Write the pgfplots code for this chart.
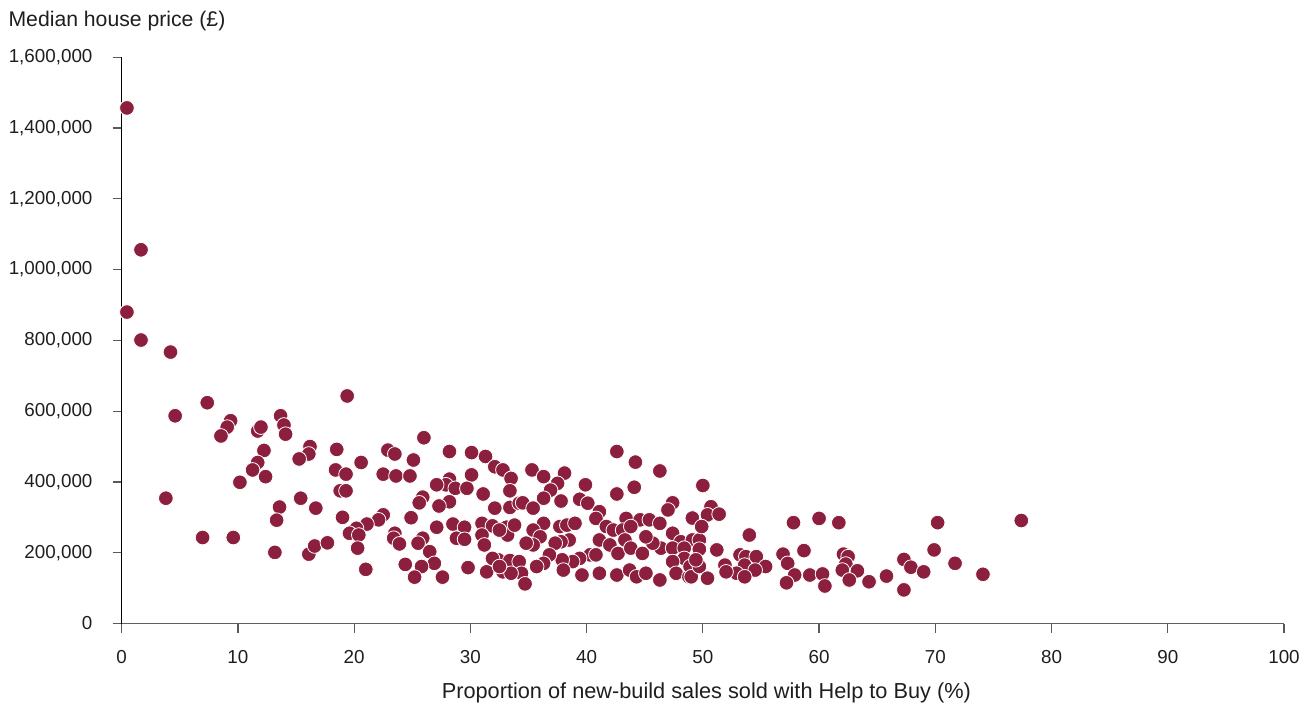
\documentclass[border=0pt]{standalone}
\usepackage{fontspec}
\setmainfont{Liberation Sans}
\usepackage{pgfplots}
\pgfplotsset{compat=1.18}
\definecolor{dot}{RGB}{140,30,62}
\definecolor{txt}{RGB}{30,30,30}
\begin{document}
\begin{tikzpicture}
\path[use as bounding box] (-91.275pt,-62.625pt) rectangle (892.725pt,467.625pt);
\begin{axis}[
  at={(0pt,0pt)}, anchor=south west,
  width=871.7pt, height=424.65pt, scale only axis,
  xmin=0, xmax=100, ymin=0, ymax=1600000,
  axis x line*=bottom, axis y line*=left,
  x axis line style={-, draw=gray!75!black, line width=0.9pt},
  y axis line style={-, draw=black, line width=0.9pt},
  tick align=outside, major tick length=6.75pt,
  tick style={draw=gray!70!black, line width=0.9pt},
  xtick={0,10,...,100},
  ytick={0,200000,400000,600000,800000,1000000,1200000,1400000,1600000},
  yticklabels={0,{200,000},{400,000},{600,000},{800,000},{1,000,000},{1,200,000},{1,400,000},{1,600,000}},
  scaled y ticks=false,
  /pgf/number format/assume math mode=true,
  ticklabel style={font=\fontsize{14.1}{16}\selectfont, text=txt},
  yticklabel style={anchor=east, inner sep=0pt, xshift=-15pt},
  xticklabel style={anchor=north, inner sep=0pt, yshift=-13.5pt},
  clip=false,
]
\addplot[only marks, mark=*, mark size=5.5pt, mark options={fill=dot, draw=white, line width=0.6pt}] table {
x y
0.45 1457000
1.66 1056000
0.45 880000
1.66 801000
4.2 767000
4.6 587000
3.8 354000
7.36 624000
6.96 243000
9.6 243000
9.37 573000
9.08 555000
8.54 530000
11.7 544000
11.98 555000
13.67 587000
13.96 561000
14.1 535000
12.24 489000
11.7 455000
11.26 434000
12.38 415000
10.17 399000
16.2 500000
16.1 479000
15.27 465000
15.4 354000
13.58 329000
13.33 292000
16.7 326000
13.18 201000
16.1 196000
16.6 219000
17.7 228000
19.4 643000
26.0 525000
18.5 492000
22.9 490000
23.5 479000
20.6 455000
25.1 462000
28.2 486000
30.1 483000
31.3 472000
18.4 434000
19.3 422000
22.5 422000
23.6 417000
24.8 417000
32.1 443000
32.8 434000
33.5 410000
30.1 420000
28.2 408000
27.9 392000
28.7 382000
29.7 382000
27.1 392000
18.8 375000
19.3 375000
33.4 375000
31.1 366000
25.9 357000
25.6 341000
28.2 344000
27.3 332000
32.1 326000
33.4 328000
34.2 340000
22.5 307000
22.1 293000
21.1 281000
20.2 269000
19.6 255000
19.0 300000
24.9 299000
20.4 250000
20.3 213000
23.5 255000
23.4 241000
23.9 225000
27.1 272000
28.5 281000
29.5 272000
31.0 283000
31.9 276000
33.1 272000
25.9 241000
25.5 227000
26.5 203000
26.9 170000
28.8 241000
29.5 238000
31.0 250000
31.2 222000
33.2 250000
21.0 153000
24.4 167000
25.8 161000
25.2 131000
27.6 131000
29.8 158000
31.4 146000
32.4 180000
33.4 178000
32.8 146000
31.9 184000
42.6 486000
44.2 456000
46.3 431000
44.1 385000
42.6 366000
35.3 434000
36.3 415000
38.1 425000
37.5 396000
36.9 377000
39.9 392000
36.3 354000
37.8 346000
39.4 351000
40.1 340000
34.5 341000
35.4 326000
47.4 341000
47.0 321000
50.0 390000
49.1 298000
41.1 316000
40.8 297000
43.4 297000
44.6 293000
45.4 293000
46.3 283000
41.7 274000
42.3 264000
43.1 264000
43.8 274000
33.8 278000
32.5 264000
36.3 283000
35.4 264000
36.0 245000
35.4 222000
34.8 227000
37.7 274000
38.3 278000
39.0 283000
38.5 236000
37.8 231000
37.3 227000
47.4 255000
48.1 231000
49.1 236000
49.7 236000
46.4 213000
47.4 213000
48.4 213000
48.4 184000
47.4 175000
41.1 236000
42.0 222000
42.7 198000
43.3 236000
43.8 213000
44.8 198000
45.7 227000
45.1 245000
40.3 194000
40.8 194000
39.4 184000
38.8 175000
37.9 180000
36.8 194000
36.3 170000
35.7 161000
34.2 175000
34.4 142000
33.5 142000
32.5 161000
34.7 112000
38.0 151000
39.6 137000
41.1 142000
42.6 137000
43.7 151000
44.3 132000
45.1 142000
46.3 123000
47.7 142000
48.8 132000
50.7 330000
50.4 307000
51.4 309000
49.9 274000
54.0 250000
49.7 210000
51.2 208000
57.8 285000
60.0 297000
61.7 285000
58.7 206000
56.9 196000
57.3 170000
57.9 137000
57.2 115000
59.2 137000
60.3 140000
60.5 106000
62.1 196000
62.5 189000
62.3 168000
62.0 151000
63.3 149000
62.6 123000
64.3 118000
65.8 134000
53.2 194000
53.7 189000
54.6 189000
55.4 161000
53.6 165000
54.5 151000
52.9 142000
53.6 132000
51.9 165000
52.0 146000
48.9 161000
49.0 132000
49.7 161000
50.4 128000
49.4 180000
70.2 285000
77.4 291000
69.9 208000
67.3 181000
67.9 159000
69.0 146000
67.3 95000
71.7 170000
74.1 139000
};
\end{axis}
\node[anchor=base west, inner sep=0pt, text=txt, font=\fontsize{15.9}{18}\selectfont] at (-85.05pt,448.1pt) {Median house price (£)};
\node[anchor=base, inner sep=0pt, text=txt, font=\fontsize{16.3}{18}\selectfont] at (438.5pt,-56.6pt) {Proportion of new-build sales sold with Help to Buy (\%)};
\end{tikzpicture}
\end{document}
